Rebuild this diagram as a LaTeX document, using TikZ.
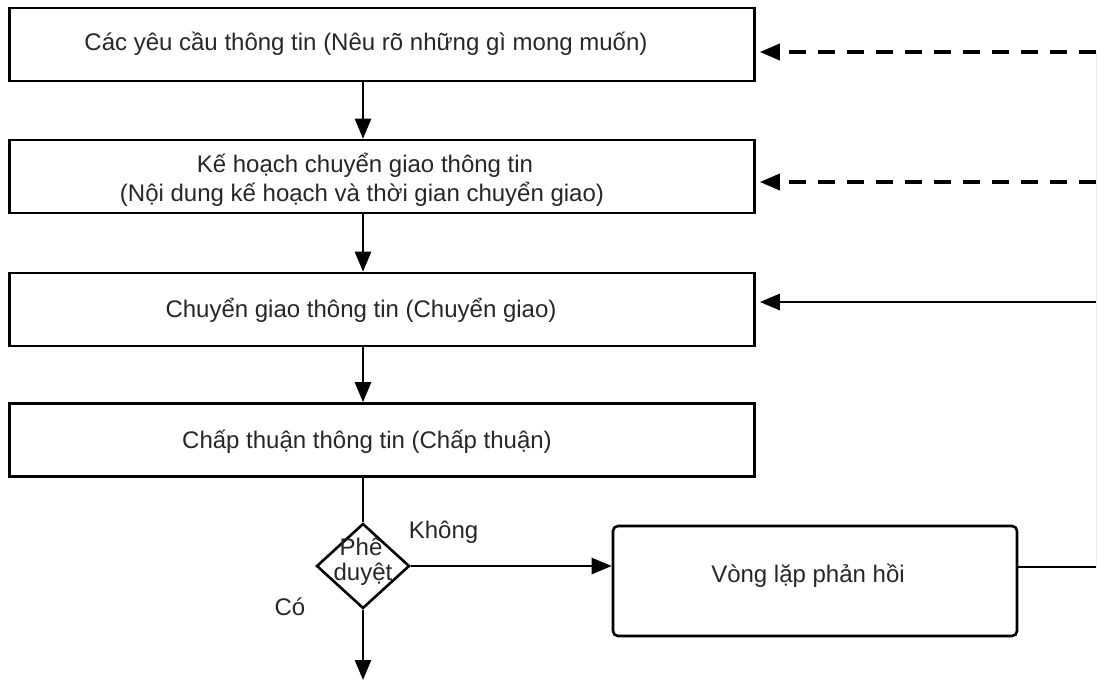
\documentclass[tikz,border=0pt]{standalone}
\usepackage{fontspec}
\setmainfont{Liberation Sans}
\usetikzlibrary{arrows.meta,shapes.geometric}
\begin{document}
\begin{tikzpicture}[x=1pt,y=-1pt,
  line width=2.6pt,
  font=\fontsize{24pt}{29pt}\selectfont,
  stepbox/.style={draw, rectangle, minimum width=745pt, minimum height=73pt, inner sep=0pt},
  loopbox/.style={draw, rectangle, rounded corners=5pt, minimum width=404pt, minimum height=110pt, inner sep=0pt},
  decision/.style={draw, diamond, minimum width=93pt, minimum height=85pt, inner sep=0pt},
  txt/.style={inner sep=0pt, anchor=base, text=black!85},
  arr/.style={-{Triangle[length=20pt,width=16pt]}},
  dashline/.style={dash pattern=on 17pt off 12pt, line width=3.4pt}]
\useasboundingbox (0,0) rectangle (1097,680);

% process steps
\node[stepbox] (b1) at (382,44.5) {};
\node[stepbox] (b2) at (382,176.5) {};
\node[stepbox] (b3) at (382,309.5) {};
\node[stepbox] (b4) at (382,440) {};

\node[txt] (t1) at (366,50) {Các yêu cầu thông tin (Nêu rõ những gì mong muốn)};
\node[txt] (t2a) at (365,172) {Kế hoạch chuyển giao thông tin};
\node[txt] (t2b) at (362,201) {(Nội dung kế hoạch và thời gian chuyển giao)};
\node[txt] (t3) at (361,317) {Chuyển giao thông tin (Chuyển giao)};
\node[txt] (t4) at (367,448) {Chấp thuận thông tin (Chấp thuận)};

% decision and feedback loop
\node[decision] (dec) at (363,566) {};
\node[txt] (d1) at (361,555) {Phê};
\node[txt] (d2) at (363,580) {duyệt};
\node[loopbox] (fb) at (815,581) {};
\node[txt] (tfb) at (808,582) {Vòng lặp phản hồi};

\node[txt] (no) at (443.5,538) {Không};
\node[txt] (yes) at (290,615) {Có};

% helper points
\coordinate (axis) at (363,0);
\coordinate (r1) at (1096,52);
\coordinate (r2) at (1096,182);
\coordinate (r3) at (1096,302);
\coordinate (r4) at (1096,567);
\coordinate (out) at (363,680);

% main flow
\draw[arr] (b1.south -| axis) -- (b2.north -| axis);
\draw[arr] (b2.south -| axis) -- (b3.north -| axis);
\draw[arr] (b3.south -| axis) -- (b4.north -| axis);
\draw (b4.south -| axis) -- (dec.north);
\draw[arr] (dec.south) -- (out);
\draw[arr] (dec.east) -- (dec.east -| fb.west);

% return path
\draw (fb.east |- r4) -- (r4);
\draw[gray!15, line width=1pt] (r1) -- (r4);
\draw[arr] (r3) -- ([xshift=4pt]r3 -| b3.east);
\draw[arr, dashline] (r2) -- ([xshift=4pt]r2 -| b2.east);
\draw[arr, dashline] (r1) -- ([xshift=4pt]r1 -| b1.east);
\end{tikzpicture}
\end{document}
